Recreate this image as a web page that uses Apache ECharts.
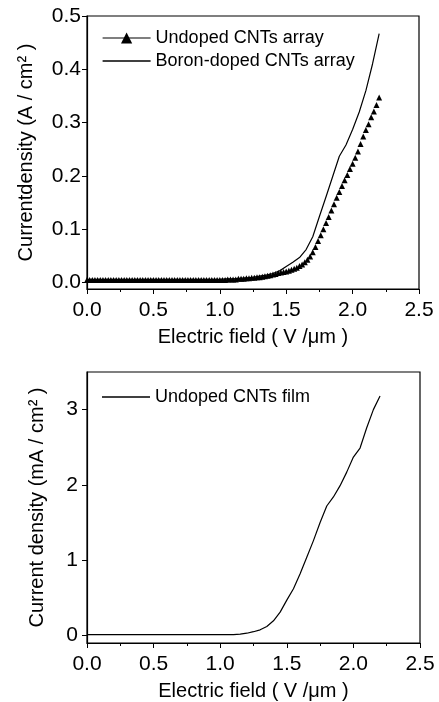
<!DOCTYPE html>
<html>
<head>
<meta charset="utf-8">
<script src="https://cdn.jsdelivr.net/npm/echarts@6/dist/echarts.min.js"></script>
<style>
  html, body { margin: 0; padding: 0; background: #fff; }
  #main { width: 439px; height: 702px; }
</style>
</head>
<body>
<div id="main"></div>
<script>
// top panel: undoped array (triangles)
const undopedX = [
  0.00, 0.02, 0.04, 0.06, 0.08, 0.10, 0.12, 0.14, 0.16, 0.18,
  0.20, 0.22, 0.24, 0.26, 0.28, 0.30, 0.32, 0.34, 0.36, 0.38,
  0.40, 0.42, 0.44, 0.46, 0.48, 0.50, 0.52, 0.54, 0.56, 0.58,
  0.60, 0.62, 0.64, 0.66, 0.68, 0.70, 0.72, 0.74, 0.76, 0.78,
  0.80, 0.82, 0.84, 0.86, 0.88, 0.90, 0.92, 0.94, 0.96, 0.98,
  1.00, 1.02, 1.04, 1.06, 1.08, 1.10, 1.12, 1.14, 1.16, 1.18,
  1.20, 1.22, 1.24, 1.26, 1.28, 1.30, 1.32, 1.34, 1.36, 1.38,
  1.40, 1.42, 1.44, 1.46, 1.48, 1.50, 1.52, 1.54, 1.56, 1.58,
  1.60, 1.62, 1.64, 1.66, 1.68, 1.70, 1.72, 1.74, 1.76, 1.78,
  1.80, 1.82, 1.84, 1.86, 1.88, 1.90, 1.92, 1.94, 1.96, 1.98,
  2.00, 2.02, 2.04, 2.06, 2.08, 2.10, 2.12, 2.14, 2.16, 2.18,
  2.20
]
const undopedY = [
  0.005, 0.005, 0.005, 0.005, 0.005, 0.005, 0.005, 0.005, 0.005, 0.005,
  0.005, 0.005, 0.005, 0.005, 0.005, 0.005, 0.005, 0.005, 0.005, 0.005,
  0.005, 0.005, 0.005, 0.005, 0.005, 0.005, 0.005, 0.005, 0.005, 0.005,
  0.005, 0.005, 0.005, 0.005, 0.005, 0.005, 0.005, 0.005, 0.005, 0.005,
  0.005, 0.005, 0.005, 0.005, 0.005, 0.005, 0.005, 0.005, 0.005, 0.005,
  0.005, 0.005, 0.005, 0.006, 0.006, 0.006, 0.006, 0.007, 0.007, 0.007,
  0.008, 0.008, 0.009, 0.009, 0.010, 0.010, 0.011, 0.012, 0.013, 0.014,
  0.015, 0.016, 0.018, 0.019, 0.020, 0.021, 0.022, 0.024, 0.026, 0.028,
  0.031, 0.034, 0.038, 0.043, 0.049, 0.057, 0.067, 0.078, 0.089, 0.100,
  0.112, 0.123, 0.135, 0.147, 0.159, 0.170, 0.181, 0.192, 0.202, 0.213,
  0.223, 0.234, 0.246, 0.260, 0.274, 0.286, 0.297, 0.310, 0.321, 0.333,
  0.347
]

// top panel: boron-doped array (line)
const boronX = [
  0.00, 0.05, 0.10, 0.15, 0.20, 0.25, 0.30, 0.35, 0.40, 0.45,
  0.50, 0.55, 0.60, 0.65, 0.70, 0.75, 0.80, 0.85, 0.90, 0.95,
  1.00, 1.05, 1.10, 1.15, 1.20, 1.25, 1.30, 1.35, 1.40, 1.45,
  1.50, 1.55, 1.60, 1.65, 1.70, 1.75, 1.80, 1.85, 1.90, 1.95,
  2.00, 2.05, 2.10, 2.15, 2.20
]
const boronY = [
  0.006, 0.006, 0.006, 0.006, 0.006, 0.006, 0.006, 0.006, 0.006, 0.006,
  0.006, 0.006, 0.006, 0.006, 0.006, 0.006, 0.006, 0.006, 0.006, 0.006,
  0.006, 0.007, 0.007, 0.008, 0.009, 0.010, 0.012, 0.014, 0.017, 0.022,
  0.030, 0.038, 0.047, 0.062, 0.086, 0.124, 0.161, 0.199, 0.237, 0.258,
  0.287, 0.320, 0.360, 0.410, 0.467
]

// bottom panel: undoped film, mA/cm2
const filmX = [
  0.00, 0.05, 0.10, 0.15, 0.20, 0.25, 0.30, 0.35, 0.40, 0.45,
  0.50, 0.55, 0.60, 0.65, 0.70, 0.75, 0.80, 0.85, 0.90, 0.95,
  1.00, 1.05, 1.10, 1.15, 1.20, 1.25, 1.30, 1.35, 1.40, 1.45,
  1.50, 1.55, 1.60, 1.65, 1.70, 1.75, 1.80, 1.85, 1.90, 1.95,
  2.00, 2.05, 2.10, 2.15, 2.20
]
const filmY = [
  0.01, 0.01, 0.01, 0.01, 0.01, 0.01, 0.01, 0.01, 0.01, 0.01,
  0.01, 0.01, 0.01, 0.01, 0.01, 0.01, 0.01, 0.01, 0.01, 0.01,
  0.01, 0.01, 0.012, 0.018, 0.03, 0.05, 0.075, 0.12, 0.195, 0.31,
  0.47, 0.62, 0.82, 1.04, 1.26, 1.50, 1.72, 1.84, 1.99, 2.17,
  2.37, 2.49, 2.76, 3.00, 3.18
]

const topTicks = [0, 0.1, 0.2, 0.3, 0.4, 0.5]
const bottomTicks = [0, 1, 2, 3]

const zip = (xs, ys) => xs.map((x, i) => [x, ys[i]])

let chart = echarts.init(document.getElementById('main'), null, { renderer: 'canvas' })
let font = 'Liberation Sans'
// plain line used as legend icon for line-only series
let lineIcon = 'path://M0,0L48,0L48,1.3L0,1.3Z'

// x axis look, same on both panels
function xAxisOpt(gridIndex) {
  return {
    type: 'value',
    gridIndex: gridIndex,
    min: 0,
    max: 2.5,
    interval: 0.5,
    name: 'Electric field ( V /\u03bcm )',
    nameLocation: 'middle',
    nameGap: 38,
    nameTextStyle: { color: '#000', fontFamily: font, fontSize: 20 },
    axisLine: { show: true, onZero: false, lineStyle: { color: '#000', width: 1.2 } },
    axisTick: { show: true, inside: false, length: 5, lineStyle: { color: '#000', width: 1 } },
    minorTick: { show: true, splitNumber: 2, length: 3, lineStyle: { color: '#000', width: 1 } },
    axisLabel: {
      color: '#000', fontFamily: font, fontSize: 21, margin: 11,
      formatter: v => v.toFixed(1)
    },
    splitLine: { show: false }
  }
}

let option = {
  animation: false,
  backgroundColor: '#fff',
  grid: [
    { left: 87, right: 20, top: 16, height: 273, show: true, borderColor: '#000', borderWidth: 1.2 },
    { left: 87, right: 19, top: 372, height: 271, show: true, borderColor: '#000', borderWidth: 1.2 }
  ],
  legend: [
    {
      orient: 'vertical',
      left: 97,
      top: 24,
      itemWidth: 48,
      itemHeight: 14,
      itemGap: 5,
      data: [
        { name: 'Undoped CNTs array', lineStyle: { width: 1.2, color: '#000', opacity: 1 } },
        { name: 'Boron-doped CNTs array', icon: lineIcon }
      ],
      textStyle: { color: '#000', fontFamily: font, fontSize: 18 }
    },
    {
      orient: 'vertical',
      left: 97,
      top: 383,
      itemWidth: 48,
      itemHeight: 14,
      data: [{ name: 'Undoped CNTs film', icon: lineIcon }],
      textStyle: { color: '#000', fontFamily: font, fontSize: 18 }
    }
  ],
  xAxis: [xAxisOpt(0), xAxisOpt(1)],
  yAxis: [
    {
      type: 'value',
      gridIndex: 0,
      min: -0.012,
      max: 0.5,
      name: 'Currentdensity (A / cm\u00b2 )',
      nameLocation: 'middle',
      nameGap: 51,
      nameTextStyle: { color: '#000', fontFamily: font, fontSize: 20 },
      axisLine: { show: true, onZero: false, lineStyle: { color: '#000', width: 1.2 } },
      axisTick: { show: true, length: 5, customValues: topTicks, lineStyle: { color: '#000', width: 1 } },
      axisLabel: {
        color: '#000', fontFamily: font, fontSize: 21, margin: 6,
        customValues: topTicks,
        formatter: v => v.toFixed(1)
      },
      splitLine: { show: false }
    },
    {
      type: 'value',
      gridIndex: 1,
      min: -0.1,
      max: 3.5,
      name: 'Current density (mA / cm\u00b2 )',
      nameLocation: 'middle',
      nameGap: 40,
      nameTextStyle: { color: '#000', fontFamily: font, fontSize: 20 },
      axisLine: { show: true, onZero: false, lineStyle: { color: '#000', width: 1.2 } },
      axisTick: { show: true, length: 5, customValues: bottomTicks, lineStyle: { color: '#000', width: 1 } },
      axisLabel: {
        color: '#000', fontFamily: font, fontSize: 21, margin: 9,
        customValues: bottomTicks
      },
      splitLine: { show: false }
    }
  ],
  series: [
    {
      name: 'Undoped CNTs array',
      type: 'line',
      xAxisIndex: 0,
      yAxisIndex: 0,
      data: zip(undopedX, undopedY),
      symbol: 'triangle',
      symbolSize: 6,
      showSymbol: true,
      itemStyle: { color: '#000' },
      lineStyle: { width: 0, color: '#000' },
      z: 3
    },
    {
      name: 'Boron-doped CNTs array',
      type: 'line',
      xAxisIndex: 0,
      yAxisIndex: 0,
      data: zip(boronX, boronY),
      symbol: 'none',
      itemStyle: { color: '#000' },
      lineStyle: { width: 1.2, color: '#000' },
      z: 2
    },
    {
      name: 'Undoped CNTs film',
      type: 'line',
      xAxisIndex: 1,
      yAxisIndex: 1,
      data: zip(filmX, filmY),
      symbol: 'none',
      itemStyle: { color: '#000' },
      lineStyle: { width: 1.2, color: '#000' }
    }
  ]
}

chart.setOption(option)
</script>
</body>
</html>
